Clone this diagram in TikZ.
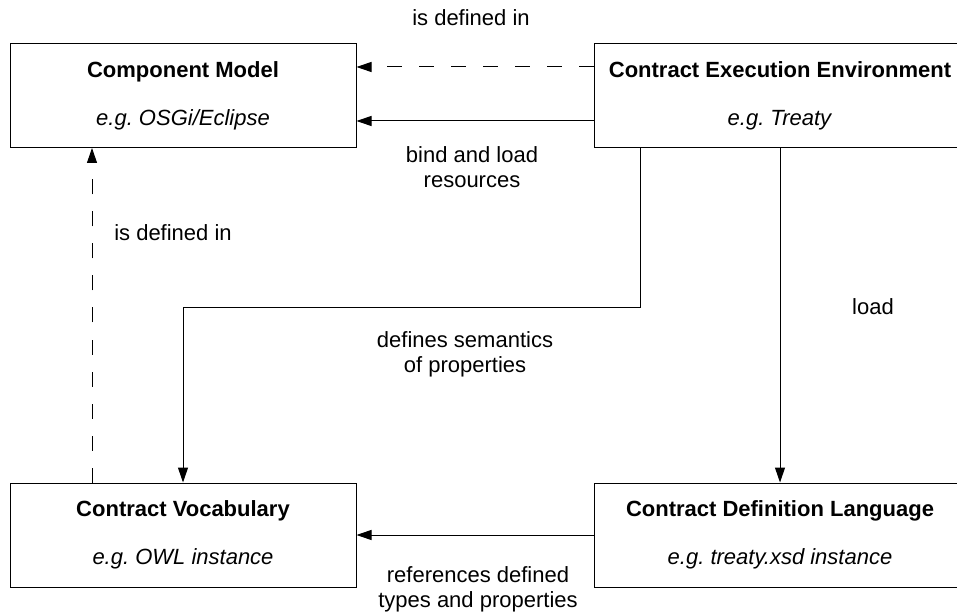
\documentclass[tikz,border=0pt]{standalone}
\usepackage{fontspec}
\setmainfont{Liberation Sans}
\usepackage{tikz}
\usetikzlibrary{arrows.meta,positioning,calc}
\frenchspacing

\begin{document}
\begin{tikzpicture}[
      x=0.5pt,y=-0.5pt,
      box/.style={draw,line width=0.5pt,minimum height=52pt,inner sep=0pt,align=center,
        font=\fontsize{11}{24}\selectfont},
      lbl/.style={align=center,font=\fontsize{11}{12.5}\selectfont,inner sep=0pt},
      arr/.style={line width=0.5pt,-{Triangle[length=7.5pt,width=5pt]}},
      dsh/.style={dash pattern=on 7.5pt off 8.5pt}
    ]
      \useasboundingbox (0,0) rectangle (957,614);
      % Boxes (right column runs past the page edge)
      \node[box,minimum width=173pt] (cm)  at (183,95.5) {\textbf{Component Model}\\\textit{e.g. OSGi/Eclipse}};
      \node[box,minimum width=186pt] (cee) at (780,95.5) {\textbf{Contract Execution Environment}\\\textit{e.g. Treaty}};
      \node[box,minimum width=173pt] (voc) at (183,535)  {\textbf{Contract Vocabulary}\\\textit{e.g. OWL instance}};
      \node[box,minimum width=186pt] (cdl) at (780,535)  {\textbf{Contract Definition Language}\\\textit{e.g. treaty.xsd instance}};
      % Helper points for the connectors
      \coordinate (ytop)  at (0,67);
      \coordinate (ybind) at (0,121);
      \coordinate (xup)   at (92,0);
      \coordinate (bend)  at (640,308);
      % Connectors
      \draw[arr,dsh] (cee.west |- ytop) -- (cm.east |- ytop);
      \draw[arr] (cee.west |- ybind) -- (cm.east |- ybind);
      \draw[arr,dsh] (voc.north -| xup) -- (cm.south -| xup);
      \draw[arr] (cee.south -| bend) -- (bend) -| (voc.north);
      \draw[arr] (cee.south) -- (cdl.north);
      \draw[arr] (cdl.west) -- (voc.east);
      % Labels
      \node[lbl] (ldef)  at (471,18)  {is defined in};
      \node[lbl] (lbind) at (472,167) {bind and load\\resources};
      \node[lbl] (ldef2) at (173,233) {is defined in};
      \node[lbl] (lsem)  at (465,354) {defines semantics\\of properties};
      \node[lbl] (lload) at (873,307) {load};
      \node[lbl] (lref)  at (478,589) {references defined\\types and properties};
    \end{tikzpicture}
\end{document}
